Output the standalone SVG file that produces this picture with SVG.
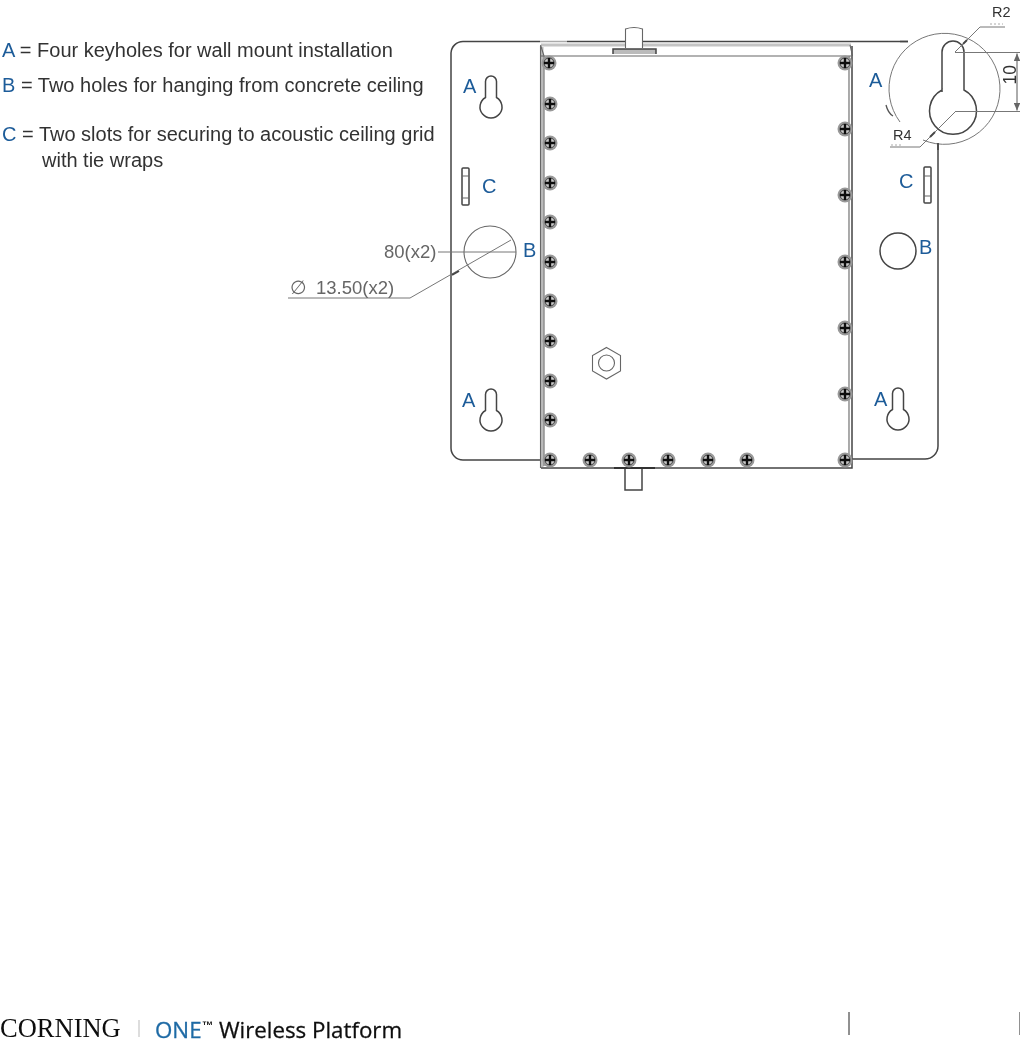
<svg xmlns="http://www.w3.org/2000/svg" width="1027" height="1063" viewBox="0 0 1027 1063">
<style>
text{font-family:"Liberation Sans",Arial,sans-serif}
.leg{font-size:20px;fill:#333}
.key{fill:#1f5c99}
.lab{font-size:20px;fill:#1f5c99}
.dim{font-size:18.5px;fill:#666}
.det{font-size:14.500px;fill:#333}
.d{fill:none;stroke:#777;stroke-width:1}
.o{fill:none;stroke:#444;stroke-width:1.5}
.t{fill:none;stroke:#666;stroke-width:1.1}
.foot{font-family:"Open Sans","Noto Sans",sans-serif;font-size:22.3px;stroke-width:.3}
</style>
<defs>
<filter id="soft" x="0" y="0" width="100%" height="100%" filterUnits="objectBoundingBox"><feGaussianBlur stdDeviation="0.5"/></filter>
<g id="screw">
<circle r="7.5" fill="#999"/>
<circle r="5" fill="#ccc" stroke="#444" stroke-width="1"/>
<path d="M-5 0H5M0-5V5" stroke="#111" stroke-width="2.4"/>
</g>
<path id="keyhole" class="o" d="M-5.500 21.500V5.500A5.500 5.500 0 0 1 5.500 5.500V21.500A11 11 0 1 1-5.500 21.500Z"/>
<marker id="arr" markerWidth="8" markerHeight="6" refX="7" refY="3" orient="auto-start-reverse"><path d="M0 0L7 3L0 6Z" fill="#666"/></marker>
</defs>
<rect width="1027" height="1063" fill="#fff"/>
<g filter="url(#soft)">
<g id="legend">
<text class="leg" x="2" y="57"><tspan class="key">A</tspan> = Four keyholes for wall mount installation</text>
<text class="leg" x="2" y="92"><tspan class="key">B</tspan> = Two holes for hanging from concrete ceiling</text>
<text class="leg" x="2" y="141"><tspan class="key">C</tspan> = Two slots for securing to acoustic ceiling grid</text>
<text class="leg" x="42" y="167">with tie wraps</text>
</g>
<g id="plate">
<path class="o" d="M540 460H463A12 12 0 0 1 451 448V53A12 12 0 0 1 463 41.500H540"/>
<path d="M540 41.500H567" stroke="#aaa" stroke-width="1.500"/>
<path d="M567 41.500H908" stroke="#444" stroke-width="1.500"/>
<path class="o" d="M852 459H925A13 13 0 0 0 938 446V143"/>
</g>
<g id="enclosure">
<path d="M541 45H851" stroke="#c4c4c4" stroke-width="3"/>
<path d="M542 47V467" stroke="#bbb" stroke-width="3"/>
<path class="t" d="M540.500 46V468M544 56V466M849 56V458"/>
<path class="o" d="M541 468H852V46"/>
<path class="t" d="M541 56H851" stroke-width="1.400"/>
<path class="t" d="M540.500 45L544 56M850 45L852.500 56"/>
<rect x="613" y="49" width="43" height="5" fill="#bbb"/>
<path class="o" d="M613 54V49H656V54" stroke-width="1.200"/>
<path class="t" d="M625.500 48V29Q634 26 642.500 29V48" style="fill:#fff"/>
<path class="o" d="M625 468V490H642V468"/>
<path d="M614 468H655" stroke="#333" stroke-width="2" fill="none"/>
</g>
<g id="screws">
<use href="#screw" x="549" y="63"/><use href="#screw" x="550" y="104"/><use href="#screw" x="550" y="143"/><use href="#screw" x="550" y="183"/><use href="#screw" x="550" y="222"/><use href="#screw" x="550" y="262"/><use href="#screw" x="550" y="301"/><use href="#screw" x="550" y="341"/><use href="#screw" x="550" y="381"/><use href="#screw" x="550" y="420"/><use href="#screw" x="550" y="460"/>
<use href="#screw" x="590" y="460"/><use href="#screw" x="629" y="460"/><use href="#screw" x="668" y="460"/><use href="#screw" x="708" y="460"/><use href="#screw" x="747" y="460"/><use href="#screw" x="845" y="460"/>
<use href="#screw" x="845" y="63"/><use href="#screw" x="845" y="129"/><use href="#screw" x="845" y="195"/><use href="#screw" x="845" y="262"/><use href="#screw" x="845" y="328"/><use href="#screw" x="845" y="394"/>
</g>
<g id="nut">
<path class="t" d="M606.500 347.500L620.500 355.500V371L606.500 379L592.500 371V355.500Z"/>
<circle class="t" cx="606.500" cy="363" r="8"/>
</g>
<g id="keyholes">
<use href="#keyhole" x="491" y="76"/>
<use href="#keyhole" x="491" y="389"/>
<use href="#keyhole" x="898" y="388"/>
</g>
<g id="slots">
<rect class="o" x="462" y="168" width="7" height="37" rx="1"/>
<path class="t" d="M462 176H469M462 198H469"/>
<rect class="o" x="924" y="167" width="7" height="36" rx="1"/>
<path class="t" d="M924 176H931M924 196H931"/>
</g>
<g id="holes">
<circle class="t" cx="490" cy="252" r="26"/>
<circle class="o" cx="898" cy="251" r="18"/>
</g>
<g id="detail">
<circle cx="941.500" cy="87.500" r="55.500" fill="#fff"/>
<path class="d" d="M900 122A55.500 55.500 0 1 1 923 140"/>
<path d="M886 105Q888 113 893 116" fill="none" stroke="#555" stroke-width="1.300"/>
<path class="o" d="M942 92V52A11 11 0 0 1 964 52V90A23.500 23.500 0 1 1 942 90Z" stroke-width="1.300"/>
<path class="d" d="M955 52.500H1020M955 111.500H1020"/>
<path class="t" d="M1017 53.500V110.500" marker-start="url(#arr)" marker-end="url(#arr)"/>
<path class="d" d="M955 52L980 27H1005M955 112L920 147H890"/>
<path d="M967 40L963 44M935 132L930 137" stroke="#444" stroke-width="1.800" fill="none"/>
<path d="M990 24H1003M891 145H902" stroke="#aaa" stroke-width="1" stroke-dasharray="2 2" fill="none"/>
<text class="det" x="992" y="17">R2</text>
<text class="det" x="893" y="140">R4</text>
<text class="det" transform="translate(1015.500 84.500) rotate(-90)" style="font-size:17.500px">10</text>
<path d="M908 41.500H900" stroke="#444" stroke-width="1.500"/>
<path d="M938 143V150" stroke="#444" stroke-width="1.500"/>
</g>
<g id="dimensions">
<path class="d" d="M438 252H516M511 240L410 298H288"/>
<path d="M459 271L452 275" stroke="#444" stroke-width="2" fill="none"/>
<text class="dim" x="384" y="258">80(x2)</text>
<text class="dim" x="290" y="294">∅</text>
<text class="dim" x="316" y="294">13.50(x2)</text>
</g>
<g id="labels">
<text class="lab" x="463" y="93">A</text><text class="lab" x="482" y="193">C</text><text class="lab" x="523" y="257">B</text><text class="lab" x="462" y="407">A</text>
<text class="lab" x="869" y="87">A</text><text class="lab" x="899" y="188">C</text><text class="lab" x="919" y="254">B</text><text class="lab" x="874" y="406">A</text>
</g>
<g id="footer">
<text x="0" y="1037" style="font-family:'Liberation Serif',serif;font-size:26.500px;fill:#111">CORNING</text>
<path d="M139 1020V1037" stroke="#bbb" stroke-width="1"/>
<text class="foot" x="155" y="1038" fill="#1f6aa5" stroke="#1f6aa5">ONE</text>
<text x="202" y="1029" style="font-size:11px;font-weight:bold;fill:#111">™</text>
<text class="foot" x="219" y="1038" fill="#111" stroke="#111">Wireless Platform</text>
<path d="M849 1012V1035M1020 1012V1035" stroke="#222" stroke-width="1"/>
</g>
</g>
</svg>
